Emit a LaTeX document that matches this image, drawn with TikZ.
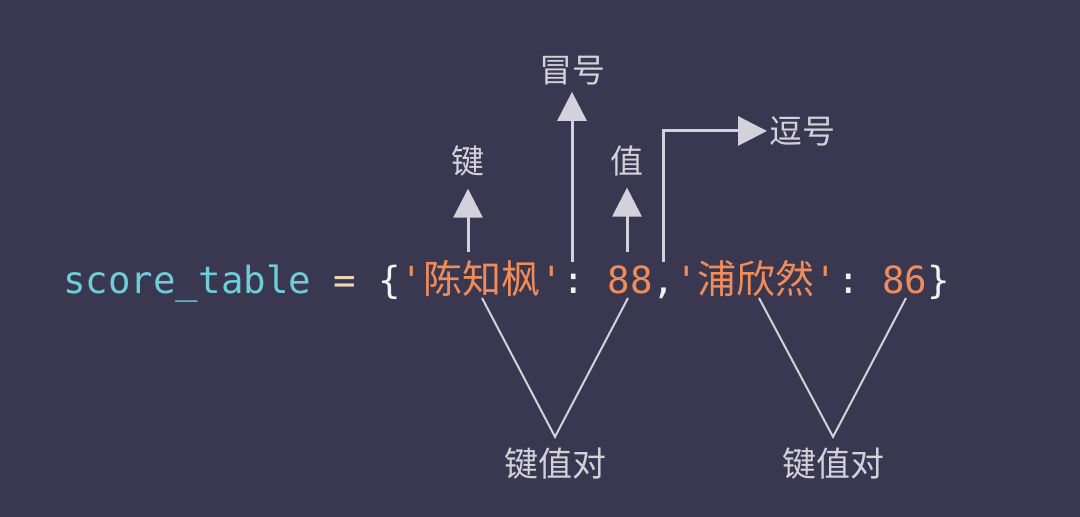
\documentclass[tikz,border=0pt]{standalone}
\usepackage{fontspec}
\setmonofont{DejaVu Sans Mono}
\newfontfamily\cjk{Noto Sans CJK SC}
\usetikzlibrary{arrows.meta,positioning}
\definecolor{cdfond}{HTML}{3A3750}
\definecolor{cdcyan}{HTML}{6ECDD7}
\definecolor{cdorange}{HTML}{F08C5A}
\definecolor{cdcreme}{HTML}{EAD8B4}
\definecolor{cdblanc}{HTML}{F2F2F2}
\definecolor{cdgris}{HTML}{D3D1DB}
\newcommand\zh[1]{{\cjk\fontsize{19.5}{22}\selectfont #1}}
\newcommand\sq{\textquotesingle}

\begin{document}
\begin{tikzpicture}[x=0.5pt,y=0.5pt,
  code/.style={inner sep=0pt,anchor=base west,font=\fontsize{18.7}{22}\selectfont\ttfamily},
  lbl/.style={inner sep=0pt,text=cdgris,font=\cjk\fontsize{16.5}{20}\selectfont},
  fleche/.style={cdgris,line width=1.5pt,-{Triangle[length=14.5pt,width=14.5pt]}},
  trait/.style={cdgris,line width=1pt}]
  % fond
  \fill[cdfond] (0,0) rectangle (1080,517);
  % ligne de code : x / texte / couleur / nom
  \foreach \x/\t/\c/\n in {63/{score\_table}/cdcyan/var, 333/{=}/cdcreme/egal,
      378/{\{}/cdblanc/acco, 400.5/{\sq\zh{陈知枫}\sq}/cdorange/cle1,
      562.5/{:}/cdblanc/dp1, 607.5/{88}/cdorange/val1, 652.5/{,}/cdblanc/virg,
      675/{\sq\zh{浦欣然}\sq}/cdorange/cle2, 837/{:}/cdblanc/dp2,
      882/{86}/cdorange/val2, 927/{\}}/cdblanc/accf}
    \node[code,text=\c] (\n) at (\x,223) {\t};
  % etiquettes du haut
  \node[lbl] (jian) at (468,356) {键};
  \node[lbl] (maohao) at (572,446) {冒号};
  \node[lbl] (zhi) at (627,356) {值};
  \node[lbl,anchor=west] (douhao) at (769,386) {逗号};
  % fleches
  \coordinate (pjian) at (468,265);
  \coordinate (pmao) at (572,255);
  \coordinate (pzhi) at (627,265);
  \coordinate (pdou) at (663,255);
  \draw[fleche,shorten >=6pt] (pjian) -- (pjian |- jian.south);
  \draw[fleche,shorten >=3pt] (pmao) -- (pmao |- maohao.south);
  \draw[fleche,shorten >=5.5pt] (pzhi) -- (pzhi |- zhi.south);
  \draw[fleche,shorten >=1pt] (pdou) |- (douhao.west);
  % paires cle-valeur
  \node[lbl,font=\cjk\fontsize{17}{20}\selectfont] (paire1) at (555,53) {键值对};
  \node[lbl,font=\cjk\fontsize{17}{20}\selectfont] (paire2) at (833,53) {键值对};
  \coordinate (v1g) at (482,219);
  \coordinate (v1d) at (628,219);
  \coordinate (v2g) at (759,219);
  \coordinate (v2d) at (906,219);
  \draw[trait] (v1g) -- ([yshift=5.5pt]paire1.north) -- (v1d);
  \draw[trait] (v2g) -- ([yshift=5.5pt]paire2.north) -- (v2d);
\end{tikzpicture}
\end{document}
